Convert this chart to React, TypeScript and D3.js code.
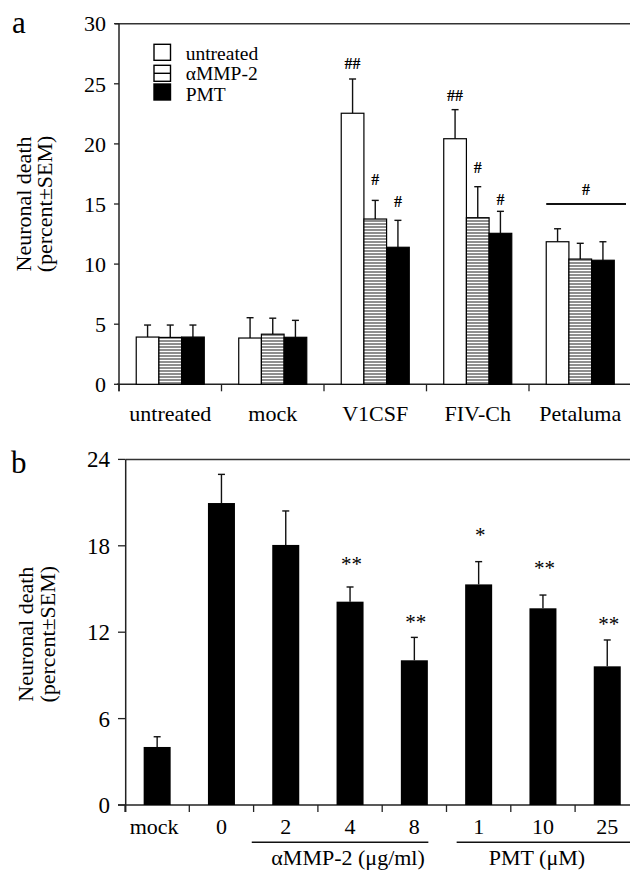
import React from 'react';
import * as d3 from 'd3';

// ---------- Panel a data ----------
const groupsA = ['untreated', 'mock', 'V1CSF', 'FIV-Ch', 'Petaluma'];
const seriesA = ['untreated', 'αMMP-2', 'PMT'];
const untreatedVals = [3.93, 3.85, 22.55, 20.43, 11.86];
const untreatedErr = [1.0, 1.69, 2.85, 2.42, 1.08];
const ammpVals = [3.9, 4.17, 13.75, 13.86, 10.42];
const ammpErr = [1.03, 1.33, 1.55, 2.58, 1.31];
const pmtVals = [3.93, 3.91, 11.4, 12.56, 10.32];
const pmtErr = [1.0, 1.41, 2.24, 1.83, 1.54];
const ticksA = [0, 5, 10, 15, 20, 25, 30];

const annotGroup = ['V1CSF', 'V1CSF', 'V1CSF', 'FIV-Ch', 'FIV-Ch', 'FIV-Ch'];
const annotSeries = [0, 1, 2, 0, 1, 2];
const annotText = ['##', '#', '#', '##', '#', '#'];
const annotLevel = [26.23, 16.58, 14.78, 23.57, 17.58, 14.92];
const bracketGroup = 'Petaluma';
const bracketLevel = 15.0;
const bracketTextLevel = 15.75;

// ---------- Panel b data ----------
const catsB = ['mock', '0', '2', '4', '8', '1', '10', '25'];
const valsB = [4.03, 20.97, 18.06, 14.12, 10.05, 15.32, 13.66, 9.63];
const errB = [0.71, 1.99, 2.36, 1.02, 1.59, 1.58, 0.92, 1.83];
const starsB = ['', '', '', '**', '**', '*', '**', '**'];
const starLevel = [0, 0, 0, 16.27, 12.22, 18.26, 15.97, 12.1];
const ticksB = [0, 6, 12, 18, 24];
const ammpCats = ['2', '4', '8'];
const pmtCats = ['1', '10', '25'];

const FONT = '"Liberation Serif", "Times New Roman", serif';

export default function App() {
  // panel a scales
  const yA = d3.scaleLinear().domain([0, 30]).range([384.3, 23.7]);
  const xA = d3.scaleBand().domain(groupsA).range([119, 631.5]).paddingInner(0).paddingOuter(0);
  const xSub = d3.scaleBand().domain(seriesA).range([0, xA.bandwidth()]).paddingInner(0).paddingOuter(0.76);
  const valsA = [untreatedVals, ammpVals, pmtVals];
  const errsA = [untreatedErr, ammpErr, pmtErr];
  const fills = ['#ffffff', 'url(#stripes)', '#000000'];

  // panel b scales
  const yB = d3.scaleLinear().domain([0, 24]).range([805, 459.4]);
  const xB = d3.scaleBand().domain(catsB).range([125, 639.4]).paddingInner(0.58).paddingOuter(0.29);
  const cB = (c: string) => (xB(c) as number) + xB.bandwidth() / 2;
  const stepB = xB.step();

  const cap = 3.5;

  return (
    <svg width={630} height={875} style={{ position: 'absolute', left: 0, top: 0, background: '#fff' }} fontFamily={FONT}>
      <defs>
        <pattern id="stripes" width={4} height={3} patternUnits="userSpaceOnUse">
          <rect width={4} height={3} fill="#8f8f8f" />
          <rect y={0} width={4} height={1} fill="#ffffff" />
        </pattern>
      </defs>
      <rect width={630} height={875} fill="#fff" />

      {/* ================= Panel a ================= */}
      <text x={12} y={33} fontSize={31}>a</text>
      {/* top frame */}
      <line x1={115} x2={630} y1={yA(30)} y2={yA(30)} stroke="#333" strokeWidth={1.5} />
      {/* y axis */}
      <line x1={119} x2={119} y1={yA(30)} y2={yA(0) + 7} stroke="#222" strokeWidth={1.5} />
      {ticksA.map((t) => (
        <g key={'ta' + t}>
          <line x1={114} x2={119} y1={yA(t)} y2={yA(t)} stroke="#222" strokeWidth={1.3} />
          <text x={106} y={yA(t)} dy="0.35em" textAnchor="end" fontSize={22}>{t}</text>
        </g>
      ))}
      {/* x axis */}
      <line x1={117} x2={630} y1={yA(0)} y2={yA(0)} stroke="#222" strokeWidth={1.5} />
      {groupsA.map((g) => (
        <g key={'ga' + g}>
          <line x1={(xA(g) as number)} x2={(xA(g) as number)} y1={yA(0)} y2={yA(0) + 7} stroke="#222" strokeWidth={1.3} />
          <text x={(xA(g) as number) + xA.bandwidth() / 2} y={420.5} textAnchor="middle" fontSize={22}>{g}</text>
        </g>
      ))}
      {/* bars */}
      {groupsA.map((g, gi) =>
        seriesA.map((s, si) => {
          const x0 = (xA(g) as number) + (xSub(s) as number);
          const w = xSub.bandwidth();
          const v = valsA[si][gi];
          const e = errsA[si][gi];
          const cx = x0 + w / 2;
          return (
            <g key={g + s}>
              <line x1={cx} x2={cx} y1={yA(v)} y2={yA(v + e)} stroke="#111" strokeWidth={1.4} />
              <line x1={cx - cap} x2={cx + cap} y1={yA(v + e)} y2={yA(v + e)} stroke="#111" strokeWidth={1.4} />
              <rect x={x0} y={yA(v)} width={w} height={yA(0) - yA(v)} fill={fills[si]} stroke="#000" strokeWidth={1.2} />
            </g>
          );
        })
      )}
      {/* annotations */}
      {annotText.map((t, i) => {
        const g = annotGroup[i];
        const s = seriesA[annotSeries[i]];
        const cx = (xA(g) as number) + (xSub(s) as number) + xSub.bandwidth() / 2;
        return (
          <text key={'an' + i} x={cx} y={yA(annotLevel[i])} textAnchor="middle" fontSize={16} fontWeight="bold">{t}</text>
        );
      })}
      {(() => {
        const x1 = (xA(bracketGroup) as number) + (xSub(seriesA[0]) as number);
        const x2 = 626;
        return (
          <g>
            <line x1={x1} x2={x2} y1={yA(bracketLevel)} y2={yA(bracketLevel)} stroke="#111" strokeWidth={2} />
            <text x={(x1 + x2) / 2} y={yA(bracketTextLevel)} textAnchor="middle" fontSize={16} fontWeight="bold">#</text>
          </g>
        );
      })()}
      {/* legend */}
      {seriesA.map((s, i) => {
        const by = [44.3, 65.3, 84][i];
        const ty = [59.5, 80, 100.5][i];
        return (
          <g key={'lg' + s}>
            <rect x={154} y={by} width={16.5} height={16} fill={i === 2 ? '#000' : '#fff'} stroke="#000" strokeWidth={1.4} />
            {i === 1 && <line x1={154} x2={170.5} y1={by + 8} y2={by + 8} stroke="#000" strokeWidth={1.4} />}
            <text x={185.7} y={ty} fontSize={19.5}>{s}</text>
          </g>
        );
      })}
      {/* y title */}
      <g transform={`translate(31, ${(yA(0) + yA(30)) / 2}) rotate(-90)`}>
        <text x={0} y={0} textAnchor="middle" fontSize={22}>Neuronal death</text>
        <text x={0} y={21} textAnchor="middle" fontSize={22}>(percent±SEM)</text>
      </g>

      {/* ================= Panel b ================= */}
      <text x={11} y={473} fontSize={31}>b</text>
      <line x1={126} x2={630} y1={yB(24)} y2={yB(24)} stroke="#333" strokeWidth={1.5} />
      <line x1={125.7} x2={125.7} y1={yB(24)} y2={yB(0) + 7} stroke="#222" strokeWidth={1.5} />
      {ticksB.map((t) => (
        <g key={'tb' + t}>
          <line x1={118} x2={125.7} y1={yB(t)} y2={yB(t)} stroke="#222" strokeWidth={1.3} />
          <text x={110} y={yB(t)} dy="0.35em" textAnchor="end" fontSize={23}>{t}</text>
        </g>
      ))}
      <line x1={118} x2={630} y1={yB(0)} y2={yB(0)} stroke="#222" strokeWidth={1.5} />
      {catsB.map((c, i) => {
        const left = cB(c) - stepB / 2;
        return (
          <g key={'cb' + i}>
            <line x1={left} x2={left} y1={yB(0)} y2={yB(0) + 7} stroke="#222" strokeWidth={1.3} />
            <text x={cB(c) - (i === 0 ? 3 : 0)} y={834} textAnchor="middle" fontSize={22}>{c}</text>
          </g>
        );
      })}
      {catsB.map((c, i) => {
        const x0 = xB(c) as number;
        const w = xB.bandwidth();
        const v = valsB[i];
        const e = errB[i];
        const cx = x0 + w / 2;
        return (
          <g key={'bb' + i}>
            <line x1={cx} x2={cx} y1={yB(v)} y2={yB(v + e)} stroke="#111" strokeWidth={1.4} />
            <line x1={cx - cap} x2={cx + cap} y1={yB(v + e)} y2={yB(v + e)} stroke="#111" strokeWidth={1.4} />
            <rect x={x0} y={yB(v)} width={w} height={yB(0) - yB(v)} fill="#000" />
            {starsB[i] && (
              <text x={cx + 1.5} y={yB(starLevel[i])} textAnchor="middle" fontSize={21}>{starsB[i]}</text>
            )}
          </g>
        );
      })}
      {/* group labels */}
      <line x1={cB(ammpCats[0]) - 34} x2={cB(ammpCats[2]) + 14} y1={842.3} y2={842.3} stroke="#111" strokeWidth={1.5} />
      <line x1={cB(pmtCats[0]) - 22} x2={630} y1={842.3} y2={842.3} stroke="#111" strokeWidth={1.5} />
      <text x={(cB(ammpCats[0]) + cB(ammpCats[2])) / 2 - 2} y={865} textAnchor="middle" fontSize={22}>αMMP-2 (μg/ml)</text>
      <text x={(cB(pmtCats[0]) + cB(pmtCats[2])) / 2 - 6} y={865} textAnchor="middle" fontSize={22}>PMT (μM)</text>
      <g transform={`translate(33, ${(yB(0) + yB(24)) / 2 + 2}) rotate(-90)`}>
        <text x={0} y={0} textAnchor="middle" fontSize={22}>Neuronal death</text>
        <text x={0} y={22} textAnchor="middle" fontSize={22}>(percent±SEM)</text>
      </g>
    </svg>
  );
}
